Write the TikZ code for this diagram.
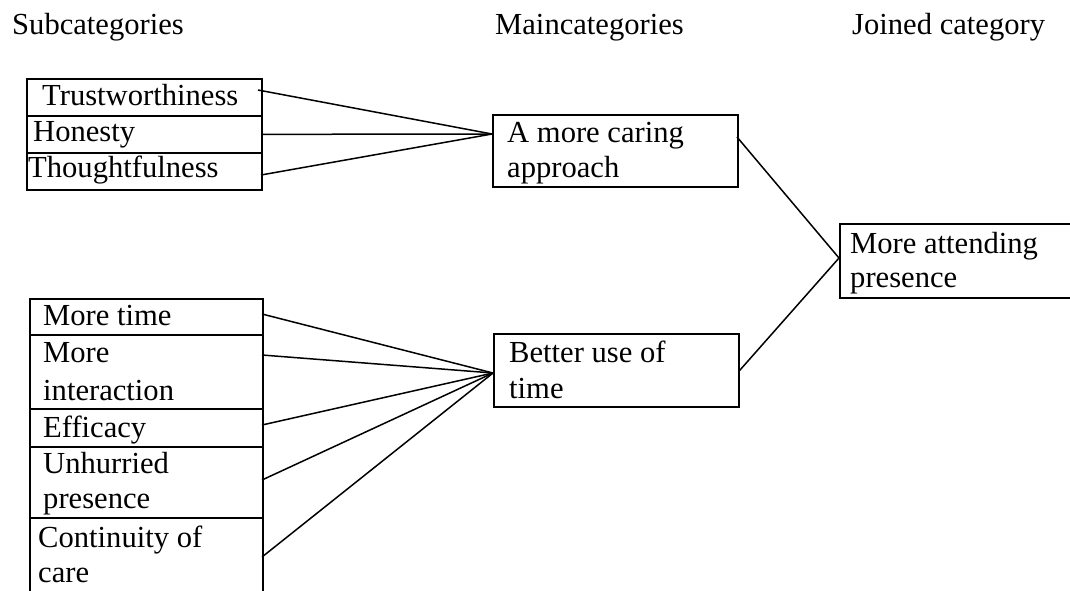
\documentclass[tikz,border=0pt]{standalone}
\usepackage{fontspec}
\setmainfont{Liberation Serif}
\begin{document}
\begin{tikzpicture}[x=1pt,y=-1pt,
  box/.style={draw, line width=1.7pt, rectangle, inner sep=0pt, anchor=north west},
  lbl/.style={anchor=base west, inner sep=0pt, font=\fontsize{30.6}{36}\selectfont},
  con/.style={line width=1.5pt}]
\clip (0,0) rectangle (1070,590);
\fill[white] (0,0) rectangle (1070,590);
% headers
\node[lbl] (h1) at (12,34) {Subcategories};
\node[lbl] (h2) at (495,34) {Maincategories};
\node[lbl] (h3) at (852,34) {Joined category};
% top-left boxes
\node[box, minimum width=235pt, minimum height=37pt] (t1) at (26,78) {};
\node[box, minimum width=235pt, minimum height=37pt] (t2) at (26,115) {};
\node[box, minimum width=235pt, minimum height=37pt] (t3) at (26,152) {};
\node[lbl] (t1a) at (42,105) {Trustworthiness};
\node[lbl] (t2a) at (33,141) {Honesty};
\node[lbl] (t3a) at (28,177) {Thoughtfulness};
% bottom-left boxes
\node[box, minimum width=233pt, minimum height=36pt] (b1) at (29,298) {};
\node[box, minimum width=233pt, minimum height=74pt] (b2) at (29,334) {};
\node[box, minimum width=233pt, minimum height=38pt] (b3) at (29,408) {};
\node[box, minimum width=233pt, minimum height=71pt] (b4) at (29,446) {};
\node[box, minimum width=233pt, minimum height=100pt] (b5) at (29,517) {};
\node[lbl] (b1a) at (43,325) {More time};
\node[lbl] (b2a) at (43,362) {More};
\node[lbl] (b2b) at (43,400) {interaction};
\node[lbl] (b3a) at (43,437) {Efficacy};
\node[lbl] (b4a) at (43,473) {Unhurried};
\node[lbl] (b4b) at (43,508) {presence};
\node[lbl] (b5a) at (38,547) {Continuity of};
\node[lbl] (b5b) at (38,582) {care};
% main categories
\node[box, minimum width=245pt, minimum height=72pt] (m1) at (492,114) {};
\node[lbl] (m1a) at (507,142) {A more caring};
\node[lbl] (m1b) at (507,177) {approach};
\node[box, minimum width=245pt, minimum height=73pt] (m2) at (493,333) {};
\node[lbl] (m2a) at (509,362) {Better use of};
\node[lbl] (m2b) at (509,398) {time};
% joined category
\node[box, minimum width=260pt, minimum height=74pt] (j) at (839,223) {};
\node[lbl] (ja) at (850,253) {More attending};
\node[lbl] (jb) at (850,287) {presence};
% connector points
\coordinate (t1e) at (258,90);
\coordinate (t2e) at (t2.east);
\coordinate (t3e) at (261,175);
\coordinate (m1w) at (492,134);
\coordinate (b1e) at (262,314);
\coordinate (b2e) at (262,355);
\coordinate (b3e) at (262,425);
\coordinate (b4e) at (262,480);
\coordinate (b5e) at (262,557);
\coordinate (m2w) at (493,373);
\coordinate (m1e) at (737,137);
\coordinate (jw) at (839,258);
% connectors
\draw[con] (t1e) -- (m1w);
\draw[con] (t2e) -- (m1w);
\draw[con] (t3e) -- (m1w);
\draw[con] (b1e) -- (m2w);
\draw[con] (b2e) -- (m2w);
\draw[con] (b3e) -- (m2w);
\draw[con] (b4e) -- (m2w);
\draw[con] (b5e) -- (m2w);
\draw[con] (m1e) -- (jw);
\draw[con] (m2.east) -- (jw);
\end{tikzpicture}
\end{document}
